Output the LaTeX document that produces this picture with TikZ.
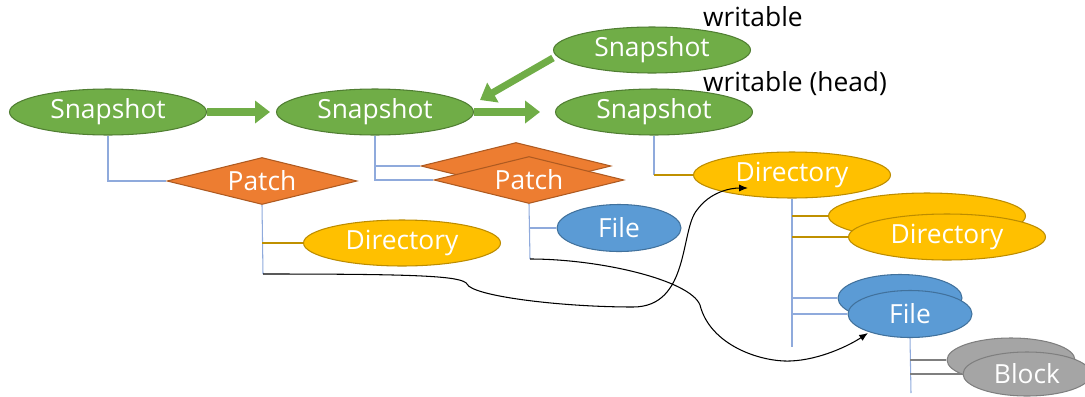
\documentclass[tikz,border=0pt]{standalone}
\usepackage{fontspec}
\setmainfont{Open Sans}
\usepackage{tikz}
\usetikzlibrary{shapes.geometric}
\usetikzlibrary{arrows.meta}
\usetikzlibrary{calc}
\usepackage{xcolor}

\definecolor{snapfill}{HTML}{70AD47}
\definecolor{snapline}{HTML}{507E32}
\definecolor{patchfill}{HTML}{ED7D31}
\definecolor{patchline}{HTML}{AE5A21}
\definecolor{dirfill}{HTML}{FFC000}
\definecolor{dirline}{HTML}{BC8C00}
\definecolor{filefill}{HTML}{5B9BD5}
\definecolor{fileline}{HTML}{41719C}
\definecolor{blockfill}{HTML}{A5A5A5}
\definecolor{blockline}{HTML}{7F7F7F}
\definecolor{stemblue}{HTML}{8FAADC}
\definecolor{stemgold}{HTML}{BF9000}

\begin{document}
\begin{tikzpicture}[x=0.02cm,y=-0.02cm,
  every node/.style={font=\fontsize{15}{17}\selectfont},
  blob/.style={ellipse,draw,inner sep=0pt,text=white,line width=0.6pt},
  snap/.style={blob,fill=snapfill,draw=snapline,minimum width=3.94cm,minimum height=0.92cm},
  patch/.style={diamond,draw=patchline,fill=patchfill,text=white,inner sep=0pt,aspect=4,minimum width=3.8cm,minimum height=0.94cm,line width=0.6pt},
  dir/.style={blob,fill=dirfill,draw=dirline,minimum width=3.94cm,minimum height=0.92cm},
  file/.style={blob,fill=filefill,draw=fileline,minimum width=2.48cm,minimum height=0.94cm},
  block/.style={blob,fill=blockfill,draw=blockline,minimum width=2.56cm,minimum height=0.88cm},
  fat/.style={line width=4pt,draw=snapfill,-{Triangle[length=8.5pt,width=12.5pt]}},
  stem/.style={stemblue,line width=0.6pt},
  goldstem/.style={stemgold,line width=0.6pt},
  graystem/.style={blockline,line width=0.6pt},
  ref/.style={black,line width=0.6pt,-{Latex[length=5pt,width=4pt]}}]
\useasboundingbox (0,0) rectangle (1085,396);

% snapshots
\node [snap] (s1) at (108,112) {Snapshot};
\node [snap] (s2) at (375,112) {Snapshot};
\node [snap] (s3) at (652,50) {Snapshot};
\node [snap] (s4) at (654,112) {Snapshot};
\node [anchor=west] (w1) at (697,17) {writable};
\node [anchor=west] (w2) at (697,84) {writable (head)};

\draw [fat,shorten >=3.4pt] (s1.east) -- (s2.west);
\draw [fat,shorten >=8.5pt] (s2.east) -- (s4.west);
\draw [fat] ($(s3.west)+(0,8)$) -- ($(s2.east)+(6,-12)$);

% patches
\node [patch] (p1) at (262,181) {Patch};
\node [patch] (pb) at (516,166) {};
\node [patch] (pf) at (529,180) {Patch};

\draw [stem] (s1.south) -- (s1.south |- p1.west) -- (p1.west);
\draw [stem] (s2.south) -- (s2.south |- pf.west) -- (pf.west);
\draw [stem] (s2.south |- pb.west) -- (pb.west);

% directories and files
\node [dir] (d1) at (402,243) {Directory};
\node [file] (f1) at (619,228) {File};
\node [dir] (d2) at (792,175) {Directory};
\node [dir] (db) at (927,216) {};
\node [dir] (df) at (947,237) {Directory};
\node [file] (fb) at (900,298) {};
\node [file] (ff) at (910,314) {File};
\node [block] (bb) at (1011,360) {};
\node [block] (bf) at (1027,374) {Block};

\coordinate (p1end) at (263,274);
\coordinate (p2end) at (530,259);
\coordinate (d2end) at (792,347);
\coordinate (ffend) at (911,393);

\draw [stem] (p1.south) -- (p1end);
\draw [goldstem] (p1.south |- d1.west) -- (d1.west);
\draw [stem] (pf.south) -- (p2end);
\draw [stem] (pf.south |- f1.west) -- (f1.west);
\draw [stem] (s4.south) -- (s4.south |- d2.west);
\draw [goldstem] (s4.south |- d2.west) -- (d2.west);
\draw [stem] (d2.south) -- (d2end);
\draw [goldstem] (d2.south |- db.west) -- (db.west);
\draw [goldstem] (d2.south |- df.west) -- (df.west);
\draw [stem] (d2.south |- fb.west) -- (fb.west);
\draw [stem] (d2.south |- ff.west) -- (ff.west);
\draw [stem] (ff.south) -- (ffend);
\draw [graystem] (ff.south |- bb.west) -- (bb.west);
\draw [graystem] (ff.south |- bf.west) -- (bf.west);

% references
\draw [ref] (p1end) .. controls (420,274) and (462,276) .. (467,284)
  .. controls (472,296) and (560,307) .. (633,307)
  .. controls (690,307) and (680,230) .. (697,210)
  .. controls (710,192) and (730,188) .. ($(d2.center)+(-44,13)$);
\draw [ref] (p2end) .. controls (600,259) and (690,280) .. (700,305)
  .. controls (710,345) and (760,362) .. (790,361)
  .. controls (820,360) and (850,345) .. ($(ff.center)+(-42,19)$);
\end{tikzpicture}
\end{document}
